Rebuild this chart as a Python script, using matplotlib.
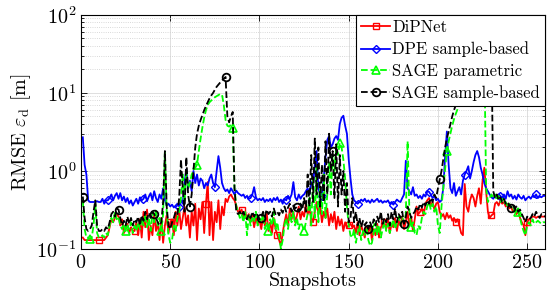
import numpy as np
import matplotlib
matplotlib.use("Agg")
import matplotlib.pyplot as plt
from matplotlib.ticker import LogLocator, NullFormatter

plt.rcParams['font.family'] = 'cmr10'
plt.rcParams['mathtext.fontset'] = 'cm'
plt.rcParams['axes.formatter.use_mathtext'] = True

snapshots = np.arange(1, 261)

# DiPNet
dipnet = [
    0.14, 0.13, 0.13, 0.13, 0.13, 0.13, 0.13, 0.13, 0.13, 0.13,
    0.13, 0.13, 0.13, 0.14, 0.15, 0.19, 0.24, 0.22, 0.25, 0.28,
    0.26, 0.20, 0.24, 0.16, 0.18, 0.21, 0.16, 0.19, 0.17, 0.17,
    0.22, 0.15, 0.24, 0.14, 0.30, 0.19, 0.32, 0.13, 0.20, 0.15,
    0.28, 0.17, 0.22, 0.13, 0.25, 0.12, 0.20, 0.27, 0.16, 0.22,
    0.24, 0.15, 0.30, 0.20, 0.33, 0.18, 0.25, 0.35, 0.20, 0.27,
    0.14, 0.30, 0.20, 0.38, 0.13, 0.33, 0.24, 0.40, 0.16, 0.38,
    0.72, 0.15, 0.40, 0.13, 0.30, 0.22, 0.42, 0.18, 0.35, 0.27,
    0.44, 0.40, 0.47, 0.50, 0.45, 0.42, 0.36, 0.30, 0.30, 0.32,
    0.26, 0.30, 0.24, 0.28, 0.22, 0.27, 0.19, 0.25, 0.21, 0.24,
    0.18, 0.26, 0.20, 0.30, 0.17, 0.22, 0.16, 0.25, 0.18, 0.15,
    0.13, 0.11, 0.16, 0.22, 0.28, 0.20, 0.33, 0.24, 0.30, 0.22,
    0.27, 0.35, 0.24, 0.30, 0.26, 0.38, 0.28, 0.32, 0.25, 0.22,
    0.30, 0.40, 0.28, 0.35, 0.22, 0.30, 0.25, 0.33, 0.20, 0.28,
    0.22, 0.30, 0.18, 0.26, 0.20, 0.24, 0.17, 0.22, 0.19, 0.20,
    0.21, 0.19, 0.20, 0.16, 0.22, 0.15, 0.20, 0.17, 0.14, 0.19,
    0.16, 0.20, 0.13, 0.18, 0.15, 0.21, 0.14, 0.19, 0.20, 0.22,
    0.18, 0.24, 0.16, 0.21, 0.19, 0.25, 0.17, 0.23, 0.20, 0.26,
    0.18, 0.22, 0.30, 0.20, 0.26, 0.17, 0.24, 0.35, 0.28, 0.30,
    0.33, 0.27, 0.38, 0.42, 0.45, 0.36, 0.40, 0.32, 0.38, 0.40,
    0.30, 0.26, 0.28, 0.24, 0.29, 0.25, 0.27, 0.23, 0.25, 0.22,
    0.24, 0.20, 0.16, 0.15, 0.68, 0.35, 0.30, 0.42, 0.50, 0.45,
    0.35, 0.48, 0.60, 0.38, 0.75, 1.10, 0.55, 0.30, 0.25, 0.27,
    0.28, 0.38, 0.40, 0.36, 0.42, 0.38, 0.40, 0.35, 0.37, 0.33,
    0.35, 0.30, 0.33, 0.28, 0.30, 0.25, 0.22, 0.20, 0.15, 0.22,
    0.24, 0.25, 0.26, 0.26, 0.25, 0.26, 0.26, 0.26, 0.26, 0.26,
]

# DPE sample-based
dpe = [
    2.70, 1.20, 0.90, 0.42, 0.40, 0.40, 0.40, 0.40, 0.41, 0.40,
    0.40, 0.44, 0.38, 0.42, 0.42, 0.45, 0.50, 0.42, 0.48, 0.52,
    0.44, 0.52, 0.42, 0.47, 0.40, 0.45, 0.38, 0.42, 0.36, 0.40,
    0.44, 0.38, 0.46, 0.42, 0.44, 0.50, 0.41, 0.47, 0.52, 0.42,
    0.55, 0.45, 0.40, 0.50, 0.44, 0.60, 0.42, 0.36, 0.38, 0.35,
    0.37, 0.34, 0.36, 0.38, 0.35, 0.42, 0.38, 0.70, 1.05, 0.60,
    0.75, 0.55, 1.00, 0.70, 0.90, 0.65, 0.80, 0.75, 0.60, 0.70,
    0.65, 0.80, 0.90, 0.70, 0.62, 1.00, 1.55, 1.10, 0.70, 0.60,
    0.55, 0.58, 0.52, 0.60, 0.55, 0.50, 0.56, 0.52, 0.50, 0.48,
    0.50, 0.45, 0.48, 0.44, 0.45, 0.50, 0.62, 0.46, 0.42, 0.44,
    0.42, 0.45, 0.40, 0.43, 0.41, 0.44, 0.40, 0.45, 0.42, 0.46,
    0.40, 0.43, 0.38, 0.44, 0.42, 0.48, 0.44, 0.50, 0.72, 0.46,
    0.42, 0.50, 0.44, 0.48, 0.50, 0.55, 0.60, 0.50, 0.72, 0.65,
    1.20, 1.80, 0.60, 0.50, 0.48, 0.80, 1.50, 2.50, 2.80, 2.00,
    2.20, 2.60, 2.80, 2.50, 4.00, 4.80, 5.10, 3.80, 3.00, 1.40,
    0.80, 0.50, 0.42, 0.40, 0.38, 0.40, 0.43, 0.41, 0.44, 0.40,
    0.42, 0.39, 0.43, 0.40, 0.42, 0.44, 0.40, 0.42, 0.39, 0.41,
    0.40, 0.42, 0.38, 0.40, 0.37, 0.40, 0.43, 0.41, 0.40, 0.45,
    0.50, 1.35, 0.60, 0.55, 0.50, 0.62, 0.48, 0.50, 0.45, 0.48,
    0.44, 0.50, 0.47, 0.55, 0.54, 0.50, 0.45, 0.48, 0.42, 0.44,
    0.40, 0.42, 0.60, 1.50, 3.20, 1.20, 0.60, 0.52, 0.70, 0.48,
    0.55, 0.62, 0.50, 0.75, 0.90, 1.00, 1.15, 0.80, 1.00, 1.30,
    1.60, 1.80, 1.50, 1.10, 0.90, 0.70, 0.60, 0.55, 0.50, 0.46,
    0.44, 0.48, 0.45, 0.50, 0.48, 0.45, 0.50, 0.44, 0.55, 0.47,
    0.50, 0.44, 0.48, 0.43, 0.50, 0.46, 0.44, 0.48, 0.42, 0.45,
    0.47, 0.44, 0.48, 0.46, 0.50, 0.45, 0.47, 0.46, 0.48, 0.48,
]

# SAGE parametric
sage_param = [
    0.42, 0.18, 0.14, 0.14, 0.135, 0.14, 0.20, 0.38, 0.16, 0.14,
    0.14, 0.15, 0.14, 0.16, 0.15, 0.20, 0.25, 0.22, 0.30, 0.24,
    0.26, 0.20, 0.18, 0.21, 0.17, 0.20, 0.18, 0.22, 0.16, 0.20,
    0.17, 0.22, 0.18, 0.25, 0.20, 0.28, 0.19, 0.24, 0.17, 0.30,
    0.22, 0.32, 0.20, 0.25, 0.17, 0.28, 1.80, 0.30, 0.15, 0.12,
    0.13, 0.20, 0.17, 0.25, 0.30, 0.45, 0.90, 0.40, 1.00, 0.60,
    0.70, 0.90, 1.00, 1.10, 1.20, 1.80, 2.60, 3.60, 4.80, 6.00,
    7.00, 7.60, 8.00, 8.40, 8.80, 9.10, 9.40, 9.70, 9.50, 7.00,
    4.50, 3.80, 3.70, 3.90, 3.60, 0.60, 0.35, 0.30, 0.25, 0.28,
    0.22, 0.30, 0.15, 0.27, 0.20, 0.25, 0.22, 0.30, 0.20, 0.25,
    0.22, 0.28, 0.18, 0.22, 0.17, 0.24, 0.20, 0.30, 0.18, 0.22,
    0.15, 0.10, 0.13, 0.20, 0.25, 0.18, 0.28, 0.22, 0.30, 0.20,
    0.25, 0.18, 0.22, 0.20, 0.17, 0.22, 0.28, 0.45, 0.20, 0.80,
    0.25, 1.10, 0.22, 0.60, 0.28, 0.90, 0.25, 0.50, 1.30, 0.50,
    1.60, 1.00, 2.00, 1.60, 2.30, 2.00, 1.40, 0.80, 0.35, 0.20,
    0.15, 0.14, 0.18, 0.12, 0.16, 0.20, 0.13, 0.17, 0.15, 0.19,
    0.13, 0.11, 0.12, 0.16, 0.19, 0.15, 0.20, 0.14, 0.18, 0.22,
    0.17, 0.21, 0.16, 0.20, 0.24, 0.18, 0.22, 0.26, 0.20, 0.25,
    0.22, 0.28, 2.40, 0.30, 0.19, 0.22, 0.16, 0.15, 0.20, 0.18,
    0.25, 0.30, 0.28, 0.35, 0.40, 0.32, 0.38, 0.30, 0.35, 0.20,
    0.16, 0.35, 0.60, 1.00, 1.80, 2.40, 3.00, 3.80, 4.60, 5.40,
    6.20, 7.50, 9.00, 11.0, 13.0, 15.0, 17.0, 19.0, 21.0, 23.0,
    25.0, 27.0, 28.0, 29.0, 30.0, 30.0, 0.60, 0.40, 0.45, 0.50,
    0.45, 0.50, 0.42, 0.48, 0.40, 0.44, 0.38, 0.40, 0.35, 0.38,
    0.34, 0.36, 0.30, 0.33, 0.30, 0.25, 0.20, 0.17, 0.15, 0.20,
    0.22, 0.20, 0.24, 0.21, 0.22, 0.23, 0.22, 0.21, 0.22, 0.22,
]

# SAGE sample-based
sage_sample = [
    0.47, 0.25, 0.18, 0.17, 0.18, 0.20, 0.30, 0.42, 0.20, 0.17,
    0.17, 0.18, 0.17, 0.19, 0.18, 0.22, 0.28, 0.30, 0.26, 0.33,
    0.32, 0.25, 0.20, 0.23, 0.20, 0.26, 0.21, 0.25, 0.20, 0.24,
    0.22, 0.26, 0.20, 0.27, 0.23, 0.30, 0.24, 0.29, 0.25, 0.30,
    0.28, 0.25, 0.22, 0.20, 0.22, 0.40, 1.80, 0.35, 0.20, 0.18,
    0.22, 0.25, 0.30, 0.28, 0.45, 1.40, 0.60, 0.30, 1.50, 0.50,
    0.35, 0.50, 1.00, 2.00, 3.00, 3.80, 4.50, 5.20, 6.00, 6.80,
    7.60, 8.50, 9.30, 10.0, 11.0, 12.0, 12.8, 13.6, 14.5, 15.2,
    16.0, 5.00, 4.20, 5.00, 5.70, 0.60, 0.30, 0.28, 0.30, 0.27,
    0.30, 0.26, 0.24, 0.28, 0.25, 0.30, 0.26, 0.29, 0.27, 0.24,
    0.25, 0.30, 0.26, 0.32, 0.28, 0.30, 0.26, 0.33, 0.28, 0.30,
    0.27, 0.32, 0.29, 0.35, 0.30, 0.34, 0.38, 0.30, 0.36, 0.33,
    0.35, 0.30, 0.38, 0.32, 0.45, 0.30, 0.90, 0.35, 1.60, 0.40,
    2.60, 0.50, 2.00, 0.35, 1.20, 0.40, 2.40, 0.50, 3.00, 1.00,
    1.80, 0.45, 2.20, 0.35, 1.60, 0.50, 1.00, 0.30, 0.70, 0.22,
    0.25, 0.45, 0.22, 0.30, 0.20, 0.25, 0.19, 0.23, 0.20, 0.22,
    0.18, 0.22, 0.19, 0.24, 0.20, 0.26, 0.22, 0.30, 0.21, 0.25,
    0.22, 0.28, 0.20, 0.30, 0.24, 0.33, 0.22, 0.28, 0.25, 0.30,
    0.21, 0.26, 0.35, 0.30, 0.25, 0.28, 0.30, 0.35, 0.32, 0.38,
    0.34, 0.40, 0.36, 0.42, 0.38, 0.45, 0.40, 0.50, 0.45, 0.60,
    0.78, 1.00, 1.40, 2.00, 2.60, 3.20, 4.00, 5.00, 6.00, 7.00,
    8.50, 10.0, 12.0, 14.0, 16.0, 18.0, 20.0, 22.0, 24.0, 26.0,
    28.0, 30.0, 32.0, 34.0, 35.0, 36.0, 37.0, 38.0, 38.0, 38.0,
    0.55, 0.45, 0.50, 0.42, 0.46, 0.40, 0.44, 0.38, 0.40, 0.36,
    0.34, 0.37, 0.33, 0.35, 0.30, 0.32, 0.28, 0.25, 0.22, 0.26,
    0.24, 0.25, 0.28, 0.26, 0.30, 0.27, 0.25, 0.28, 0.27, 0.26,
]

labels = ['DiPNet', 'DPE sample-based', 'SAGE parametric', 'SAGE sample-based']
x_ticks = [0, 50, 100, 150, 200, 250]

fig = plt.figure(figsize=(5.55, 3.04), dpi=100)
ax = fig.add_axes([0.146, 0.181, 0.836, 0.770])

lw = 1.3
ax.plot(snapshots, dipnet, '-', color=(1, 0, 0), lw=lw, marker='s', ms=4.5,
        mfc='none', mew=1.0, markevery=(9, 20), label=labels[0])
ax.plot(snapshots, dpe, '-', color=(0, 0, 1), lw=lw, marker='D', ms=4.5,
        mfc='none', mew=1.0, markevery=(14, 20), label=labels[1])
ax.plot(snapshots, sage_param, '--', color=(0, 1, 0), lw=lw, marker='^', ms=6,
        mfc='none', mew=1.2, markevery=(4, 20), label=labels[2])
ax.plot(snapshots, sage_sample, '--', color='k', lw=lw, marker='o', ms=5.5,
        mfc='none', mew=1.3, markevery=(0, 20), label=labels[3])

ax.set_yscale('log')
ax.set_xlim(0, 260)
ax.set_ylim(0.1, 100)
ax.set_xticks(x_ticks)
ax.yaxis.set_minor_locator(LogLocator(base=10, subs=np.arange(2, 10)))
ax.yaxis.set_minor_formatter(NullFormatter())

ax.grid(True, which='major', color=(0.85, 0.85, 0.85), lw=0.6)
ax.grid(True, which='minor', axis='y', color=(0.8, 0.8, 0.8), lw=0.6, ls=':')
ax.set_axisbelow(True)

ax.tick_params(which='both', direction='in', top=True, right=True,
               labelsize=14.5, width=0.6)
ax.tick_params(which='major', length=4)
ax.tick_params(which='minor', length=2)
for sp in ax.spines.values():
    sp.set_linewidth(0.8)

ax.set_xlabel('Snapshots', fontsize=14.5, labelpad=0)
ax.set_ylabel(r'RMSE $\varepsilon_\mathrm{d}$ [m]', fontsize=14.5, labelpad=2)

leg = ax.legend(loc='upper right', fontsize=12.0, fancybox=False,
                edgecolor='k', framealpha=1, borderaxespad=0,
                handlelength=1.7, handletextpad=0.15, labelspacing=0.38,
                borderpad=0.3)
leg.get_frame().set_linewidth(0.8)

fig.savefig('out.png', dpi=100)
